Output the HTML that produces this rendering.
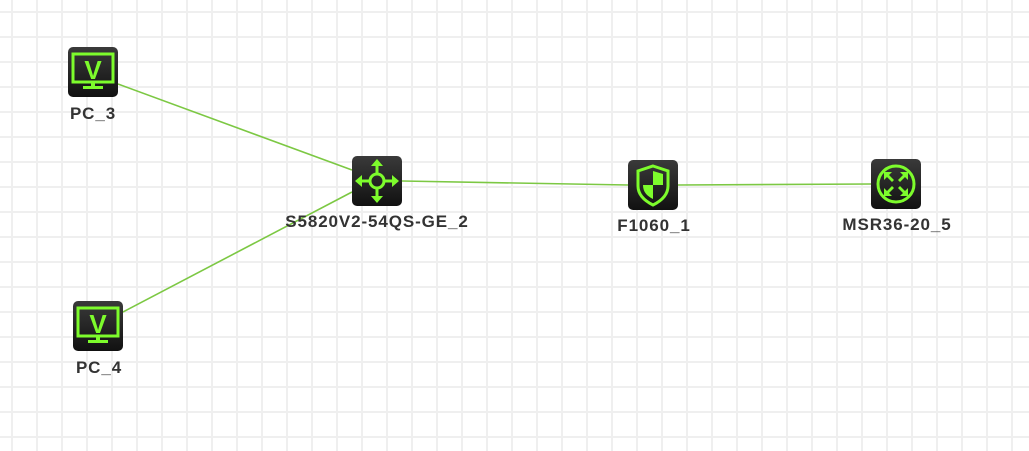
<!DOCTYPE html>
<html><head><meta charset="utf-8"><style>
html,body{margin:0;padding:0}
body{width:1029px;height:451px;overflow:hidden;background:#fff;
background-image:linear-gradient(to right,#efefef 2px,transparent 2px),linear-gradient(to bottom,#efefef 2px,transparent 2px);
background-size:25px 25px;background-position:11px 11px;position:relative;font-family:"Liberation Sans",sans-serif}
.ic{position:absolute;width:50px;height:50px;border-radius:5px;background:linear-gradient(#3a3a3a,#111)}
.ic svg{width:50px;height:50px;display:block}
.lb{position:absolute;font-weight:bold;font-size:17px;letter-spacing:0.9px;color:#333;transform:translateX(-50%);white-space:nowrap;line-height:17px}
</style></head><body>
<svg style="position:absolute;left:0;top:0" width="1029" height="451">
<g stroke="#7cc843" stroke-width="1.6" fill="none">
<line x1="118" y1="84" x2="352" y2="170"/>
<line x1="123" y1="312" x2="352" y2="192"/>
<line x1="402" y1="181" x2="628" y2="185"/>
<line x1="678" y1="185" x2="871" y2="184"/>
</g></svg>

<div class="ic" style="left:68px;top:47px"><svg viewBox="0 0 50 50"><rect x="5" y="7" width="40" height="28" fill="none" stroke="#7dfc2c" stroke-width="3"/><text x="25" y="32" text-anchor="middle" font-family="Liberation Sans" font-weight="bold" font-size="26" fill="#7dfc2c">V</text><rect x="23" y="36" width="4" height="3" fill="#7dfc2c"/><rect x="15" y="39" width="20" height="3" fill="#7dfc2c"/></svg></div>
<div class="lb" style="left:93px;top:105px">PC_3</div>

<div class="ic" style="left:73px;top:301px"><svg viewBox="0 0 50 50"><rect x="5" y="7" width="40" height="28" fill="none" stroke="#7dfc2c" stroke-width="3"/><text x="25" y="32" text-anchor="middle" font-family="Liberation Sans" font-weight="bold" font-size="26" fill="#7dfc2c">V</text><rect x="23" y="36" width="4" height="3" fill="#7dfc2c"/><rect x="15" y="39" width="20" height="3" fill="#7dfc2c"/></svg></div>
<div class="lb" style="left:99px;top:359px">PC_4</div>

<div class="ic" style="left:352px;top:156px"><svg viewBox="0 0 50 50"><circle cx="25" cy="25" r="7" fill="none" stroke="#7dfc2c" stroke-width="3"/><g stroke="#7dfc2c" stroke-width="3"><line x1="25" y1="6" x2="25" y2="18"/><line x1="25" y1="32" x2="25" y2="44"/><line x1="6" y1="25" x2="18" y2="25"/><line x1="32" y1="25" x2="44" y2="25"/></g><g fill="#7dfc2c"><polygon points="25,3 19,10 31,10"/><polygon points="25,47 19,40 31,40"/><polygon points="3,25 10,19 10,31"/><polygon points="47,25 40,19 40,31"/></g></svg></div>
<div class="lb" style="left:377px;top:213px">S5820V2-54QS-GE_2</div>

<div class="ic" style="left:628px;top:160px"><svg viewBox="0 0 50 50"><path d="M25 6 L40 11 L40 26 C40 35 33 41 25 45 C17 41 10 35 10 26 L10 11 Z" fill="none" stroke="#7dfc2c" stroke-width="3"/><path d="M25 11 L25 25 L35 25 L35 14 Z" fill="#7dfc2c"/><path d="M25 25 L15 25 C15 32 19 36 25 39 Z" fill="#7dfc2c"/></svg></div>
<div class="lb" style="left:654px;top:217px">F1060_1</div>

<div class="ic" style="left:871px;top:159px"><svg viewBox="0 0 50 50"><circle cx="25" cy="25" r="18" fill="none" stroke="#7dfc2c" stroke-width="3"/><g fill="#7dfc2c"><polygon points="13,13 21,13 18,16 23,21 21,23 16,18 13,21"/><polygon points="37,13 37,21 34,18 29,23 27,21 32,16 29,13"/><polygon points="13,37 13,29 16,32 21,27 23,29 18,34 21,37"/><polygon points="37,37 29,37 32,34 27,29 29,27 34,32 37,29"/></g></svg></div>
<div class="lb" style="left:897px;top:216px">MSR36-20_5</div>
</body></html>
